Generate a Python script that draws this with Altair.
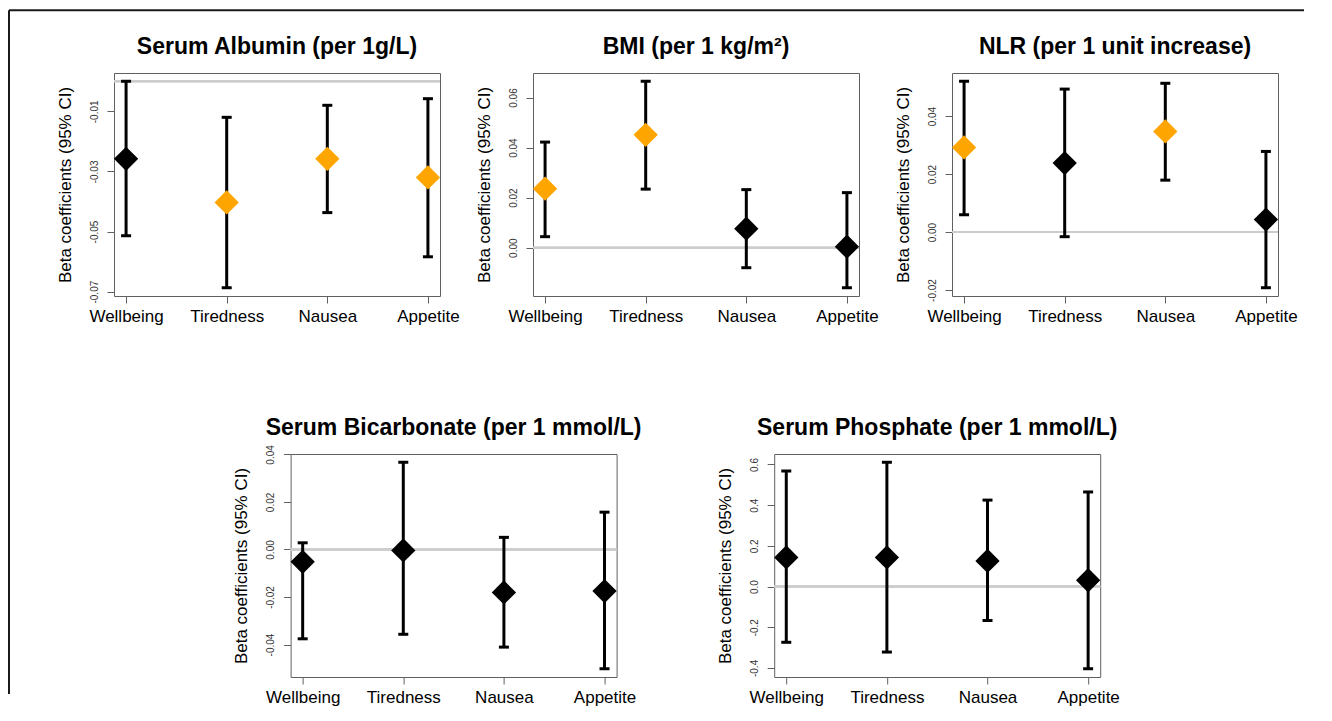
import json
import altair as alt
import pandas as pd

# ---------------- data ----------------
categories = ["Wellbeing", "Tiredness", "Nausea", "Appetite"]
positions = [1, 2, 3, 4]

albumin_title = "Serum Albumin (per 1g/L)"
albumin_beta = [-0.0258, -0.0403, -0.0258, -0.0320]
albumin_lower = [-0.0514, -0.0687, -0.0437, -0.0584]
albumin_upper = [0.0000, -0.0120, -0.0080, -0.0058]
albumin_sig = [False, True, True, True]
albumin_ticks = [-0.07, -0.05, -0.03, -0.01]

bmi_title = "BMI (per 1 kg/m²)"
bmi_beta = [0.0236, 0.0451, 0.0076, 0.0004]
bmi_lower = [0.0044, 0.0234, -0.0080, -0.0160]
bmi_upper = [0.0422, 0.0665, 0.0232, 0.0220]
bmi_sig = [True, True, False, False]
bmi_ticks = [0.00, 0.02, 0.04, 0.06]

nlr_title = "NLR (per 1 unit increase)"
nlr_beta = [0.0292, 0.0238, 0.0347, 0.0043]
nlr_lower = [0.0060, -0.0016, 0.0179, -0.0192]
nlr_upper = [0.0520, 0.0493, 0.0513, 0.0278]
nlr_sig = [True, False, True, False]
nlr_ticks = [-0.02, 0.00, 0.02, 0.04]

bicarb_title = "Serum Bicarbonate (per 1 mmol/L)"
bicarb_beta = [-0.0052, -0.0004, -0.0181, -0.0175]
bicarb_lower = [-0.0376, -0.0357, -0.0411, -0.0502]
bicarb_upper = [0.0028, 0.0367, 0.0051, 0.0157]
bicarb_sig = [False, False, False, False]
bicarb_ticks = [-0.04, -0.02, 0.00, 0.02, 0.04]

phosphate_title = "Serum Phosphate (per 1 mmol/L)"
phosphate_beta = [0.143, 0.143, 0.126, 0.031]
phosphate_lower = [-0.274, -0.322, -0.167, -0.404]
phosphate_upper = [0.568, 0.611, 0.425, 0.465]
phosphate_sig = [False, False, False, False]
phosphate_ticks = [-0.4, -0.2, 0.0, 0.2, 0.4, 0.6]

# ---------------- styling ----------------
FONT = "Liberation Sans"
PW, PH = 326, 223
AXIS_GRAY = "#606060"
ORANGE = "#FFA500"
one = pd.DataFrame({"k": [0]})


def panel(title, beta, lower, upper, sig, ticks, fmt, title_offset=-8.5):
    df = pd.DataFrame({
        "pos": positions,
        "category": categories,
        "beta": beta,
        "lower": lower,
        "upper": upper,
        "sig": ["yes" if s else "no" for s in sig],
    })
    lo, hi = min(lower), max(upper)
    r = hi - lo
    yscale = alt.Scale(domain=[lo - 0.04 * r, hi + 0.04 * r], nice=False, zero=False)
    xscale = alt.Scale(domain=[0.88, 4.12], nice=False, zero=False)

    xaxis = alt.Axis(
        values=positions,
        labelExpr=json.dumps(categories) + "[round(datum.value) - 1]",
        title=None, grid=False, domain=False,
        tickSize=7, tickColor=AXIS_GRAY, tickWidth=1,
        labelFontSize=17, labelColor="black", labelPadding=5,
        labelFlush=False, labelOverlap=False, labelBound=False,
    )
    yaxis = alt.Axis(
        values=ticks, format=fmt,
        labelExpr="replace(datum.label, '\u2212', '-')",
        labelAngle=270, labelAlign="center", labelBaseline="bottom",
        labelFontSize=10, labelColor="#333333", labelPadding=8,
        tickSize=7, tickColor=AXIS_GRAY, tickWidth=1,
        title="Beta coefficients (95% CI)", titleFontSize=17,
        titleFontWeight="normal", titleColor="black", titlePadding=15,
        grid=False, domain=False, labelOverlap=False, labelFlush=False,
        labelBound=False,
    )

    zero = alt.Chart(df).mark_rule(color="#cccccc", strokeWidth=2).encode(
        y=alt.YDatum(0, type="quantitative", scale=yscale, axis=yaxis)
    )
    bars = alt.Chart(df).mark_rule(color="black", strokeWidth=3).encode(
        x=alt.X("pos:Q", scale=xscale, axis=xaxis),
        y=alt.Y("lower:Q", scale=yscale, axis=yaxis),
        y2="upper:Q",
    )
    cap_lo = alt.Chart(df).mark_tick(
        orient="horizontal", size=10, thickness=3, color="black", opacity=1
    ).encode(x="pos:Q", y="lower:Q")
    cap_hi = alt.Chart(df).mark_tick(
        orient="horizontal", size=10, thickness=3, color="black", opacity=1
    ).encode(x="pos:Q", y="upper:Q")
    pts = alt.Chart(df).mark_point(
        shape="diamond", filled=True, size=590, opacity=1, strokeWidth=0
    ).encode(
        x="pos:Q",
        y="beta:Q",
        color=alt.Color(
            "sig:N",
            scale=alt.Scale(domain=["no", "yes"], range=["#000000", ORANGE]),
            legend=None,
        ),
    )
    return alt.layer(zero, bars, cap_lo, cap_hi, pts).properties(
        width=PW,
        height=PH,
        view=alt.ViewBackground(stroke=AXIS_GRAY, strokeWidth=1),
        title=alt.Title(
            title, fontSize=23, fontWeight="bold", font=FONT, color="black",
            anchor="middle", frame="group", baseline="bottom",
            offset=title_offset,
        ),
    )


def frame_cell(w):
    # empty lead-in cell of the lower row; also carries the outer figure border
    top_line = alt.Chart(one).mark_rule(color="#1a1a1a", strokeWidth=2).encode(
        x=alt.value(-105), x2=alt.value(1190),
        y=alt.value(-443.7), y2=alt.value(-443.7),
    )
    left_line = alt.Chart(one).mark_rule(color="#1a1a1a", strokeWidth=2).encode(
        x=alt.value(-105), x2=alt.value(-105),
        y=alt.value(-443.7), y2=alt.value(240),
    )
    return alt.layer(top_line, left_line).properties(width=w, height=PH)


p1 = panel(albumin_title, albumin_beta, albumin_lower, albumin_upper, albumin_sig,
           albumin_ticks, ".2f")
p2 = panel(bmi_title, bmi_beta, bmi_lower, bmi_upper, bmi_sig, bmi_ticks, ".2f")
p3 = panel(nlr_title, nlr_beta, nlr_lower, nlr_upper, nlr_sig, nlr_ticks, ".2f")
p4 = panel(bicarb_title, bicarb_beta, bicarb_lower, bicarb_upper, bicarb_sig,
           bicarb_ticks, ".2f", title_offset=-18.4)
p5 = panel(phosphate_title, phosphate_beta, phosphate_lower, phosphate_upper,
           phosphate_sig, phosphate_ticks, ".1f", title_offset=-9)

top = alt.hconcat(p1, p2, p3, spacing=93, bounds="flush")
bottom = alt.hconcat(frame_cell(18.4), p4, p5, spacing=157.6, bounds="flush")

chart = alt.vconcat(top, bottom, spacing=PH + 158, bounds="flush").properties(
    padding={"left": 0, "top": 1, "right": 0, "bottom": 0},
    background="white",
).configure(font=FONT).configure_view(
    stroke="transparent", strokeWidth=0
)

chart.save("out.html", embed_options={"renderer": "svg", "actions": False})
